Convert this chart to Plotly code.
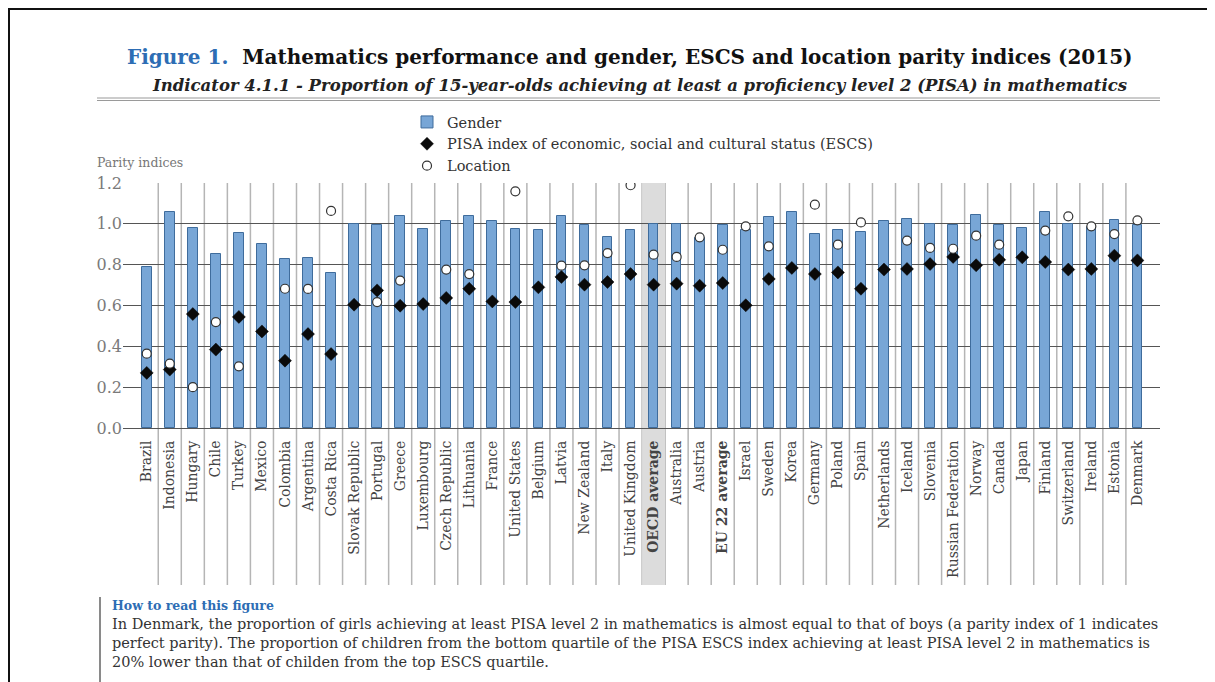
import plotly.graph_objects as go

countries = ["Brazil", "Indonesia", "Hungary", "Chile", "Turkey", "Mexico", "Colombia",
             "Argentina", "Costa Rica", "Slovak Republic", "Portugal", "Greece", "Luxembourg",
             "Czech Republic", "Lithuania", "France", "United States", "Belgium", "Latvia",
             "New Zealand", "Italy", "United Kingdom", "OECD average", "Australia", "Austria",
             "EU 22 average", "Israel", "Sweden", "Korea", "Germany", "Poland", "Spain",
             "Netherlands", "Iceland", "Slovenia", "Russian Federation", "Norway", "Canada",
             "Japan", "Finland", "Switzerland", "Ireland", "Estonia", "Denmark"]

gender = [0.79, 1.06, 0.98, 0.85, 0.955, 0.90, 0.83, 0.835, 0.76, 1.00, 0.996, 1.037, 0.976,
          1.016, 1.037, 1.016, 0.976, 0.971, 1.04, 0.996, 0.936, 0.968, 1.00, 1.00, 0.931,
          0.996, 0.971, 1.032, 1.056, 0.95, 0.971, 0.958, 1.012, 1.024, 1.00, 0.996, 1.045,
          0.996, 0.98, 1.056, 1.00, 0.984, 1.02, 0.996]

escs = [0.27, 0.286, 0.558, 0.384, 0.544, 0.473, 0.33, 0.46, 0.362, 0.604, 0.674, 0.599, 0.607,
        0.637, 0.682, 0.62, 0.617, 0.689, 0.74, 0.702, 0.715, 0.754, 0.702, 0.707, 0.697,
        0.71, 0.601, 0.73, 0.784, 0.754, 0.762, 0.682, 0.776, 0.779, 0.803, 0.838, 0.797,
        0.824, 0.836, 0.813, 0.776, 0.779, 0.844, 0.821]

location = [0.364, 0.315, 0.20, 0.519, 0.302, None, 0.682, 0.681, 1.063, None, 0.617, 0.722,
            None, 0.776, 0.754, None, 1.159, None, 0.795, 0.797, 0.857, 1.189, 0.849, 0.838,
            0.934, 0.873, 0.988, 0.89, None, 1.094, 0.898, 1.007, None, 0.918, 0.882, 0.878,
            0.942, 0.898, None, 0.967, 1.037, 0.988, 0.95, 1.017]

bold_labels = ["OECD average", "EU 22 average"]
shaded = "OECD average"

title_blue = "Figure 1."
title_main = "Mathematics performance and gender, ESCS and location parity indices (2015)"
subtitle = "Indicator 4.1.1 - Proportion of 15-year-olds achieving at least a proficiency level 2 (PISA) in mathematics"
howto_head = "How to read this figure"
howto_lines = [
    "In Denmark, the proportion of girls achieving at least PISA level 2 in mathematics is almost equal to that of boys (a parity index of 1 indicates",
    "perfect parity). The proportion of children from the bottom quartile of the PISA ESCS index achieving at least PISA level 2 in mathematics is",
    "20% lower than that of childen from the top ESCS quartile.",
]

SERIF = "DejaVu Serif"
OFF = 8                      # page body margin
W, H = 1215 - OFF, 682 - OFF
L, R, T, B = 123, 1160, 183, 428   # plot area in screen pixels


def px(x):
    return (x - L) / (R - L)


def py(y):
    return (B - y) / (B - T)


ticktext = [f"<b>{c}</b>" if c in bold_labels else c for c in countries]

fig = go.Figure()
fig.add_trace(go.Bar(
    x=countries, y=gender, name="Gender", width=0.42,
    marker=dict(color="#78a6d6", line=dict(color="#3f6c9c", width=1)),
))
fig.add_trace(go.Scatter(
    x=countries, y=escs, mode="markers",
    name="PISA index of economic, social and cultural status (ESCS)",
    marker=dict(symbol="diamond", size=10, color="#0a0a0a", line=dict(color="#0a0a0a", width=0.5)),
))
fig.add_trace(go.Scatter(
    x=countries, y=location, mode="markers", name="Location",
    marker=dict(symbol="circle", size=9, color="white", line=dict(color="#333333", width=1.2)),
))

shapes = []
for i in range(len(countries) - 1):
    shapes.append(dict(type="line", xref="x", yref="paper", x0=i + 0.5, x1=i + 0.5,
                       y0=py(585), y1=1, line=dict(color="#b5b5b5", width=1.5), layer="below"))
k = countries.index(shaded)
shapes.append(dict(type="rect", xref="x", yref="paper", x0=k - 0.5, x1=k + 0.5,
                   y0=py(585), y1=1, fillcolor="#dcdcdc", line=dict(width=0), layer="below"))
shapes.append(dict(type="line", xref="paper", yref="paper", x0=px(97), x1=px(1160),
                   y0=py(98), y1=py(98), line=dict(color="#9a9a9a", width=1.2)))
shapes.append(dict(type="line", xref="paper", yref="paper", x0=px(97), x1=px(1160),
                   y0=py(100.5), y1=py(100.5), line=dict(color="#9a9a9a", width=1.2)))
shapes.append(dict(type="line", xref="paper", yref="paper", x0=px(OFF), x1=px(1215),
                   y0=py(OFF + 1), y1=py(OFF + 1), line=dict(color="#111111", width=2)))
shapes.append(dict(type="line", xref="paper", yref="paper", x0=px(OFF + 1), x1=px(OFF + 1),
                   y0=py(OFF), y1=py(682), line=dict(color="#111111", width=2)))
shapes.append(dict(type="line", xref="paper", yref="paper", x0=px(100), x1=px(100),
                   y0=py(597), y1=py(682), line=dict(color="#8a8a8a", width=2)))

annotations = [
    dict(xref="paper", yref="paper", x=px(630), y=py(57), xanchor="center", yanchor="middle",
         showarrow=False,
         text=f"<b><span style='color:#2d6db4'>{title_blue}</span>  {title_main}</b>",
         font=dict(family=SERIF, size=20, color="#111111")),
    dict(xref="paper", yref="paper", x=px(639), y=py(85), xanchor="center", yanchor="middle",
         showarrow=False, text=f"<b><i>{subtitle}</i></b>",
         font=dict(family=SERIF, size=16.5, color="#222222")),
    dict(xref="paper", yref="paper", x=px(95), y=py(163), xanchor="left", yanchor="middle",
         showarrow=False, text="Parity indices",
         font=dict(family=SERIF, size=12.5, color="#777777")),
    dict(xref="paper", yref="paper", x=px(110), y=py(605), xanchor="left", yanchor="middle",
         showarrow=False, text=f"<b>{howto_head}</b>",
         font=dict(family=SERIF, size=12.5, color="#2d6db4")),
]
for j, line in enumerate(howto_lines):
    annotations.append(dict(xref="paper", yref="paper", x=px(110), y=py(624 + 19 * j),
                            xanchor="left", yanchor="middle", showarrow=False, text=line,
                            font=dict(family=SERIF, size=14.5, color="#333333")))

fig.update_layout(
    width=W, height=H,
    margin=dict(l=L - OFF, r=W - (R - OFF), t=T - OFF, b=H - (B - OFF), pad=0),
    paper_bgcolor="white", plot_bgcolor="white",
    showlegend=True,
    legend=dict(x=px(407), y=py(106), xanchor="left", yanchor="top",
                font=dict(family=SERIF, size=14.5, color="#333333"),
                bgcolor="rgba(0,0,0,0)", itemwidth=30, tracegroupgap=0),
    xaxis=dict(type="category", categoryarray=countries, categoryorder="array",
               range=[-1.03, 43.98], showgrid=False, zeroline=False, showline=False,
               tickmode="array", tickvals=countries, ticktext=ticktext, tickangle=-90,
               ticks="outside", ticklen=6, tickcolor="rgba(0,0,0,0)",
               tickfont=dict(family=SERIF, size=14, color="#444444")),
    yaxis=dict(range=[0, 1.2], dtick=0.2, tick0=0, tickformat=".1f", showgrid=True,
               gridcolor="#555555", gridwidth=1.3, zeroline=True, zerolinecolor="#555555",
               zerolinewidth=1.3, showline=False, ticks="",
               tickfont=dict(family=SERIF, size=16, color="#7a7a7a")),
    shapes=shapes, annotations=annotations,
    bargap=0,
)

fig.write_html("out.html")
